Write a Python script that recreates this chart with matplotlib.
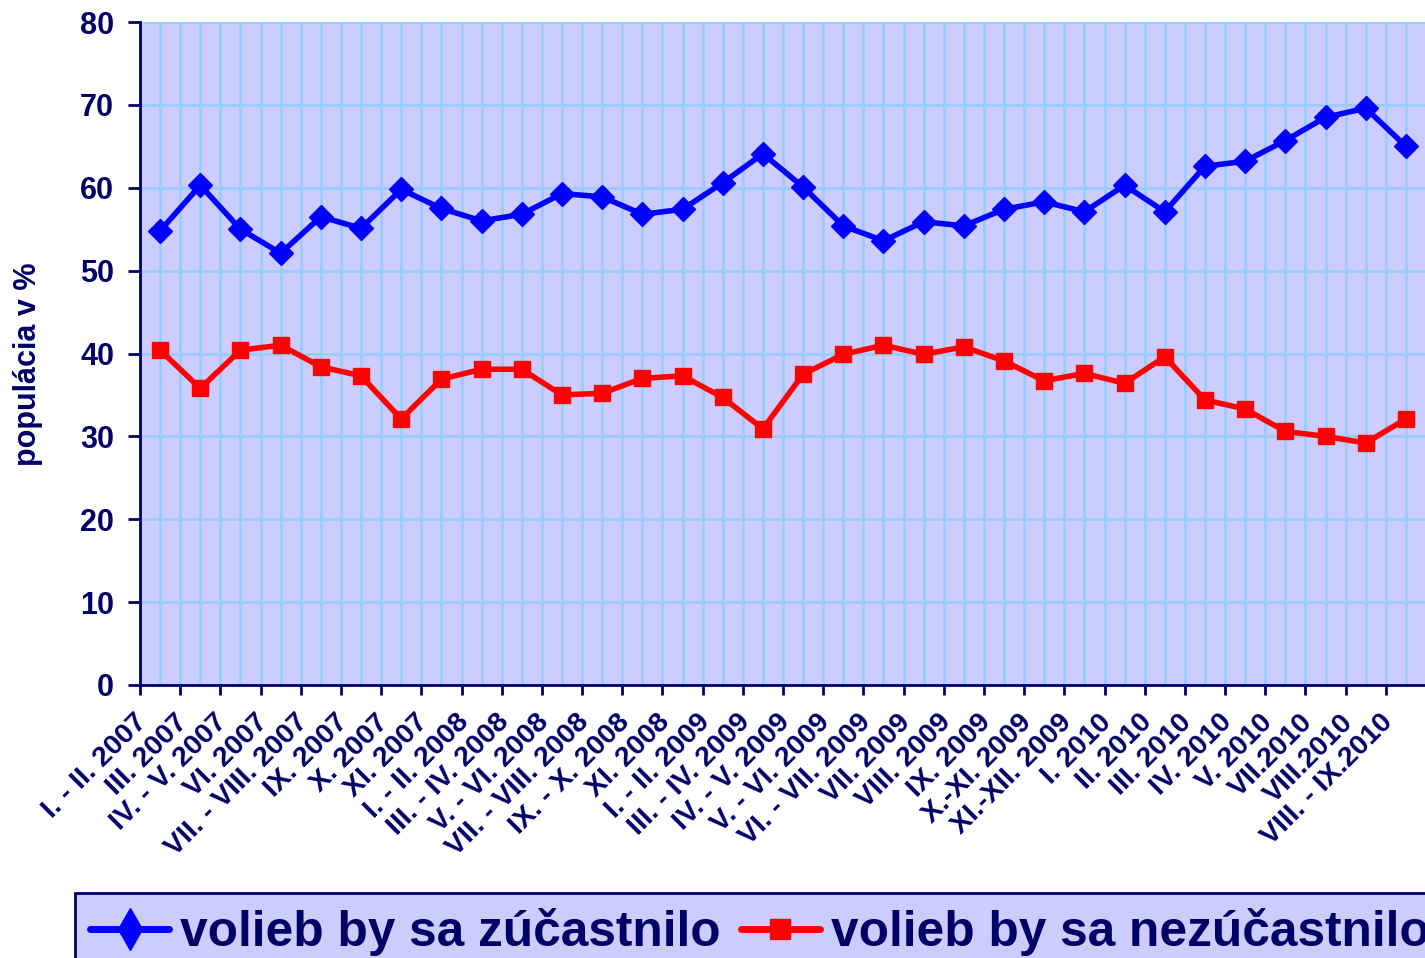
import matplotlib
matplotlib.use("Agg")
import matplotlib.pyplot as plt
import matplotlib.transforms as mtransforms
from matplotlib.lines import Line2D
import numpy as np

plt.rcParams['font.family'] = ['Liberation Sans', 'DejaVu Sans']

categories = [
    "I. - II. 2007", "III. 2007", "IV. - V. 2007", "VI. 2007", "VII. - VIII. 2007",
    "IX. 2007", "X. 2007", "XI. 2007", "I. - II. 2008", "III. - IV. 2008",
    "V. - VI. 2008", "VII. - VIII. 2008", "IX. - X. 2008", "XI. 2008",
    "I. - II. 2009", "III. - IV. 2009", "IV. - V. 2009", "V. - VI. 2009",
    "VI. - VII. 2009", "VII. 2009", "VIII. 2009", "IX. 2009", "X.-XI. 2009",
    "XI.-XII. 2009", "I. 2010", "II. 2010", "III. 2010", "IV. 2010", "V. 2010",
    "VII.2010", "VIII.2010", "VIII. - IX.2010",
]
zucastnilo = [54.8, 60.3, 55.0, 52.1, 56.5, 55.1, 59.8, 57.5, 56.0, 56.8,
              59.3, 58.9, 56.8, 57.4, 60.6, 64.1, 60.1, 55.4, 53.6, 55.9,
              55.4, 57.4, 58.3, 57.1, 60.3, 57.1, 62.6, 63.2, 65.7, 68.5,
              69.6, 65.0]
nezucastnilo = [40.4, 35.8, 40.4, 41.0, 38.4, 37.3, 32.1, 36.9, 38.1, 38.1,
                35.0, 35.2, 37.0, 37.3, 34.7, 30.9, 37.5, 39.9, 41.0, 39.9,
                40.8, 39.1, 36.7, 37.6, 36.4, 39.6, 34.4, 33.3, 30.6, 30.0,
                29.2, 32.1]
series_names = ["volieb by sa zúčastnilo", "volieb by sa nezúčastnilo"]
yticks = [0, 10, 20, 30, 40, 50, 60, 70, 80]
ylabel = "populácia v %"

NAVY = "#000066"
W, H = 1425, 958
fig = plt.figure(figsize=(W / 100, H / 100), dpi=100)
ax = fig.add_axes([140 / W, (H - 685) / H, 1286 / W, 663 / H])
ax.set_facecolor("#CCCCFF")

x = np.arange(len(categories))
ax.plot(x, zucastnilo, color="#0000FF", lw=4, marker="D", ms=12.5,
        markerfacecolor="#0000FF", markeredgecolor="#0000FF", zorder=5, clip_on=False)
ax.plot(x, nezucastnilo, color="#FF0000", lw=4, marker="s", ms=12,
        markerfacecolor="#FF0000", markeredgecolor="#FF0000", zorder=5, clip_on=False)

ax.set_xlim(-0.5, len(categories) - 0.5)
ax.set_ylim(0, 80)
ax.set_yticks(yticks)
ax.set_xticks(np.arange(-0.5, len(categories), 1))
ax.set_xticklabels([])
ax.set_xticks(x, categories, minor=True)

ax.grid(True, which="both", color="#99CCFF", lw=2, zorder=0)
ax.set_axisbelow(True)

for s in ["top", "right"]:
    ax.spines[s].set_visible(False)
for s in ["left", "bottom"]:
    ax.spines[s].set_color(NAVY)
    ax.spines[s].set_linewidth(2)

ax.tick_params(axis="y", which="major", direction="out", length=8.6, width=2,
               color=NAVY, labelcolor=NAVY, labelsize=22, pad=10)
ax.tick_params(axis="x", which="major", direction="out", length=7, width=2, color=NAVY)
ax.tick_params(axis="x", which="minor", length=0, labelcolor=NAVY, labelsize=20.5, pad=24)
for t in ax.get_yticklabels():
    t.set_fontweight("bold")
offset = mtransforms.ScaledTranslation(-17 / 100, 0, fig.dpi_scale_trans)
for t in ax.get_xticklabels(minor=True):
    t.set_fontweight("bold")
    t.set_rotation(45)
    t.set_ha("right")
    t.set_va("center")
    t.set_rotation_mode("anchor")
    t.set_transform(t.get_transform() + offset)

ax.set_ylabel(ylabel, color=NAVY, fontsize=22, fontweight="bold")
ax.yaxis.set_label_coords(-97 / 1286, 0.484)

handles = [
    Line2D([], [], color="#0000FF", lw=5, marker="d", ms=21, solid_capstyle="round"),
    Line2D([], [], color="#FF0000", lw=5, marker="s", ms=14, solid_capstyle="round"),
]
leg = fig.legend(handles, series_names, loc="upper left",
                 bbox_to_anchor=(75 / W, 1 - 893 / H), ncol=2,
                 prop={"family": "Liberation Sans", "weight": "bold", "size": 35.7},
                 frameon=True, fancybox=False, facecolor="#CCCCFF", edgecolor=NAVY,
                 framealpha=1, handlelength=1.6, handletextpad=0.22,
                 columnspacing=0.4, borderaxespad=0, borderpad=0.3)
leg.get_frame().set_linewidth(2)
for t in leg.get_texts():
    t.set_color(NAVY)

fig.savefig("out.png", dpi=100)
